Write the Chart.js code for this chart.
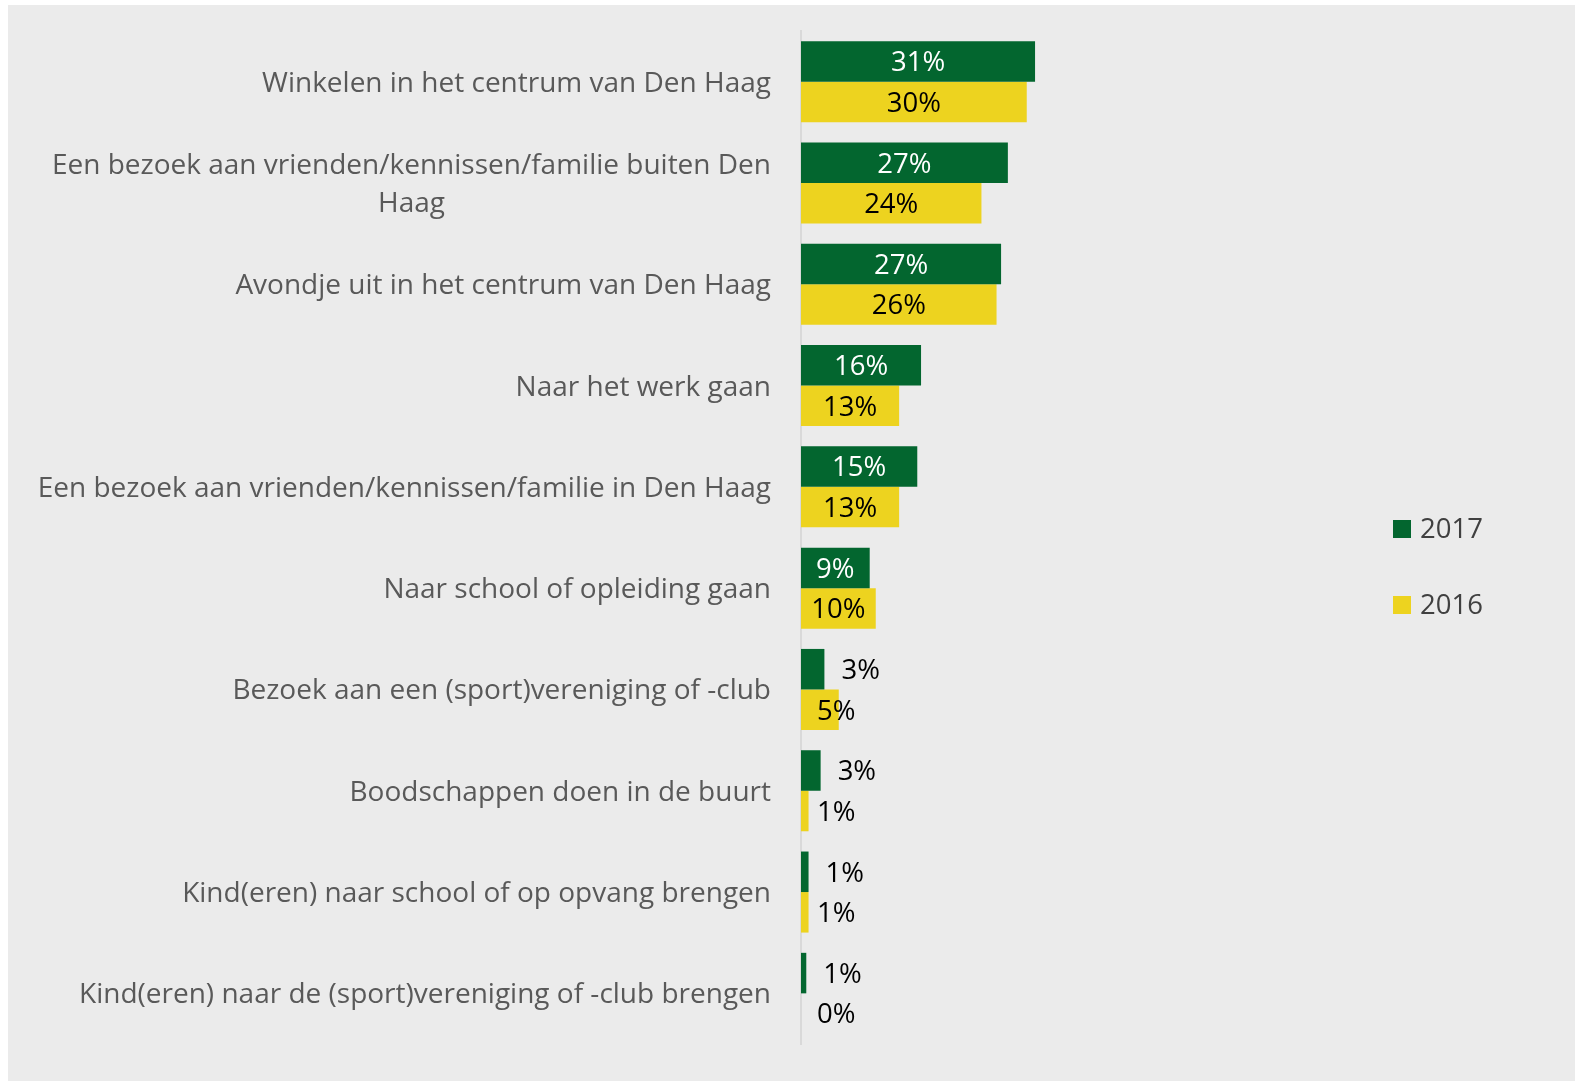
<!DOCTYPE html>
<html>
<head>
<meta charset="utf-8">
<script src="https://cdn.jsdelivr.net/npm/chart.js@4.4.1/dist/chart.umd.min.js"></script>
<style>
  html, body { margin: 0; padding: 0; background: #ffffff; }
  #wrap { position: absolute; left: 8px; top: 5px; width: 1567px; height: 1076px; background: #ebebeb; }
</style>
</head>
<body>
<div id="wrap"><canvas id="barchart" width="1567" height="1076"></canvas></div>
<script>
// categories, top to bottom
var categories = [
  'Winkelen in het centrum van Den Haag',
  ['Een bezoek aan vrienden/kennissen/familie buiten Den', 'Haag'],
  'Avondje uit in het centrum van Den Haag',
  'Naar het werk gaan',
  'Een bezoek aan vrienden/kennissen/familie in Den Haag',
  'Naar school of opleiding gaan',
  'Bezoek aan een (sport)vereniging of -club',
  'Boodschappen doen in de buurt',
  'Kind(eren) naar school of op opvang brengen',
  'Kind(eren) naar de (sport)vereniging of -club brengen'
];
// percentages (labels are rounded)
var values2017 = [31, 27.4, 26.5, 15.9, 15.4, 9.1, 3.1, 2.6, 1.0, 0.7];
var values2016 = [29.9, 23.9, 25.9, 13.0, 13.0, 9.9, 5.0, 1.0, 1.0, 0];
var seriesNames = ['2017', '2016'];

var FONT = '"Open Sans", sans-serif';
var green = '#03662f';
var yellow = '#edd31f';

// category labels: right aligned block, lines centred within block
var categoryLabels = {
  id: 'categoryLabels',
  afterDraw: function(chart) {
    var ctx = chart.ctx;
    var yScale = chart.scales.y;
    var right = 763;
    ctx.save();
    ctx.font = '28px ' + FONT;
    ctx.fillStyle = '#595959';
    ctx.textBaseline = 'middle';
    ctx.textAlign = 'center';
    chart.data.labels.forEach(function(lab, i) {
      var lines = Array.isArray(lab) ? lab : [lab];
      var w = Math.max.apply(null, lines.map(function(l) { return ctx.measureText(l).width; }));
      var cx = right - w / 2;
      var y0 = yScale.getPixelForValue(i) + 2 - (lines.length - 1) * 38 / 2;
      lines.forEach(function(l, k) { ctx.fillText(l, cx, y0 + k * 38); });
    });
    ctx.restore();
  }
};

// value labels: centred inside big bars, beside small ones
var valueLabels = {
  id: 'valueLabels',
  afterDatasetsDraw: function(chart) {
    var ctx = chart.ctx;
    ctx.save();
    ctx.font = '27.5px ' + FONT;
    ctx.textBaseline = 'middle';
    chart.data.datasets.forEach(function(ds, di) {
      chart.getDatasetMeta(di).data.forEach(function(bar, i) {
        var v = ds.data[i];
        var txt = Math.round(v) + '%';
        if (v >= 6) {
          ctx.textAlign = 'center';
          ctx.fillStyle = di === 0 ? '#ffffff' : '#000000';
          ctx.fillText(txt, (bar.x + bar.base) / 2, bar.y + 2);
        } else {
          ctx.textAlign = 'left';
          ctx.fillStyle = '#000000';
          var x = di === 0 ? bar.x + 17 : bar.base + 16;
          ctx.fillText(txt, x, bar.y + 2);
        }
      });
    });
    ctx.restore();
  }
};

// legend on the right
var sideLegend = {
  id: 'sideLegend',
  afterDraw: function(chart) {
    var ctx = chart.ctx;
    var tops = [515, 591];
    ctx.save();
    ctx.font = '27.5px ' + FONT;
    ctx.textBaseline = 'middle';
    ctx.textAlign = 'left';
    chart.data.datasets.forEach(function(ds, di) {
      ctx.fillStyle = ds.backgroundColor;
      ctx.fillRect(1385, tops[di], 18, 18);
      ctx.fillStyle = '#404040';
      ctx.fillText(ds.label, 1412, tops[di] + 10);
    });
    ctx.restore();
  }
};

(function() {
  var ctx = document.getElementById('barchart').getContext('2d');
  new Chart(ctx, {
    type: 'bar',
    data: {
      labels: categories,
      datasets: [
        { label: seriesNames[0], data: values2017, backgroundColor: green, categoryPercentage: 0.8, barPercentage: 1.0 },
        { label: seriesNames[1], data: values2016, backgroundColor: yellow, categoryPercentage: 0.8, barPercentage: 1.0 }
      ]
    },
    options: {
      indexAxis: 'y',
      responsive: false,
      animation: false,
      layout: { padding: { top: 26, bottom: 37, right: 472, left: 0 } },
      scales: {
        x: { display: false, min: 0, max: 40 },
        y: {
          grid: { display: false },
          border: { display: true, color: '#d9d9d9', width: 2 },
          ticks: { display: false },
          afterFit: function(scale) { scale.width = 793; }
        }
      },
      plugins: {
        legend: { display: false },
        tooltip: { enabled: false }
      }
    },
    plugins: [categoryLabels, valueLabels, sideLegend]
  });
})();
</script>
</body>
</html>
